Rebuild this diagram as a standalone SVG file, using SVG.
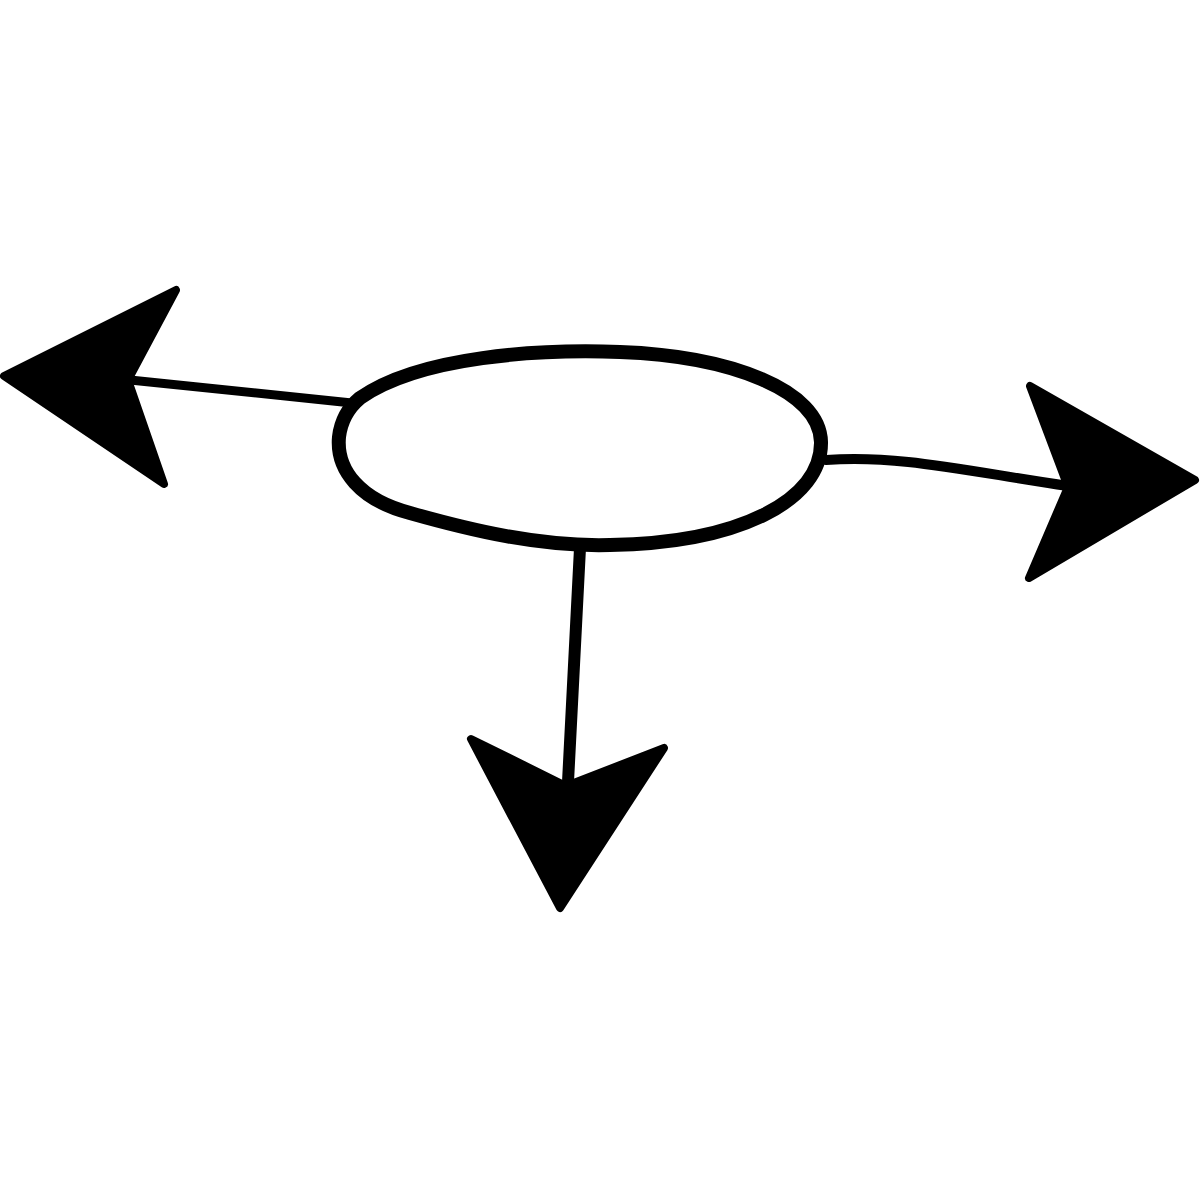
<svg xmlns="http://www.w3.org/2000/svg" width="1200" height="1200" viewBox="0 0 1200 1200">
<style>
.line{fill:none;stroke:#000;stroke-width:10;stroke-linecap:round;stroke-linejoin:round}
.head{fill:#000;stroke:#000;stroke-width:8;stroke-linejoin:round}
.node{fill:#fff;stroke:#000;stroke-width:14}
</style>
<rect width="1200" height="1200" fill="#fff"/>
<g id="connectors">
<path class="line" style="stroke-width:9" d="M352 403 L130 380"/>
<path class="line" d="M826 460 C900 455 960 470 1068 486"/>
<path class="line" style="stroke-width:12" d="M580 548 L568 782"/>
<polygon class="head" points="4,376 176,290 128,380 164,484"/>
<polygon class="head" points="1195,480 1030,386 1068,487 1029,578"/>
<polygon class="head" points="560,908 471,739 566,786 664,748"/>
</g>
<g id="node">
<path class="node" d="M360 398 C420 356 540 349 620 352 C730 356 820 390 821 442 C822 500 740 543 610 545 C540 547 470 530 410 513 C360 500 336 470 339 437 C341 420 348 408 360 398 Z"/>
</g>
</svg>
